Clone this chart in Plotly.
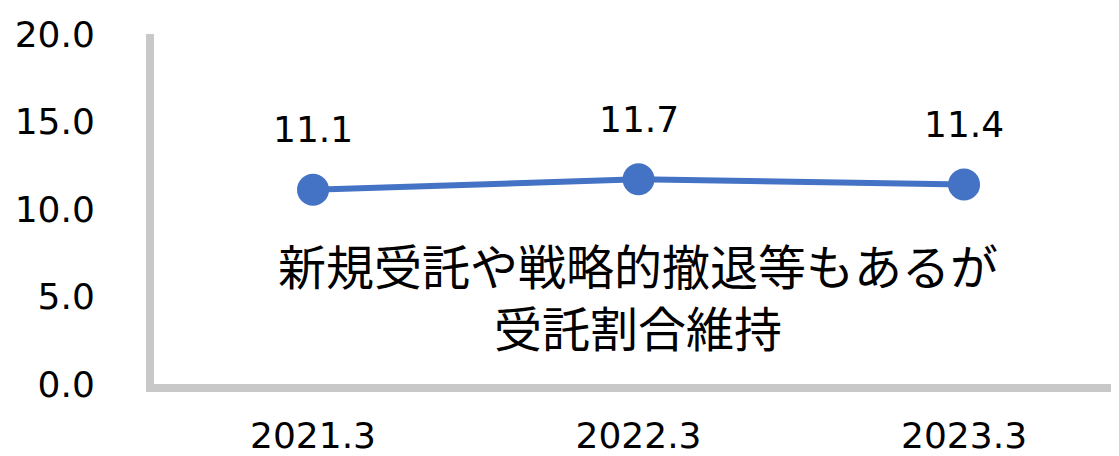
import plotly.graph_objects as go

categories = ["2021.3", "2022.3", "2023.3"]
values = [11.1, 11.7, 11.4]
y_ticks = [0, 5, 10, 15, 20]
y_tick_labels = ["0.0", "5.0", "10.0", "15.0", "20.0"]
note_text = "新規受託や戦略的撤退等もあるが<br>受託割合維持"

x_pos = list(range(len(categories)))

fig = go.Figure()
fig.add_trace(go.Scatter(
    x=x_pos, y=values, mode="lines+markers",
    line=dict(color="#4472C4", width=6),
    marker=dict(color="#4472C4", size=32),
    hoverinfo="skip", showlegend=False,
))

for xp, v in zip(x_pos, values):
    fig.add_annotation(
        x=xp, y=v, text=f"{v:.1f}", showarrow=False,
        yshift=60, font=dict(family="DejaVu Sans", size=36, color="#000000"),
    )

fig.add_annotation(
    xref="paper", yref="paper", x=0.5016, y=0.254,
    xanchor="center", yanchor="middle",
    text=note_text, showarrow=False, align="center",
    font=dict(family="Noto Sans CJK JP", size=48, color="#000000"),
)

fig.update_layout(
    width=1111, height=448,
    margin=dict(l=146, r=0, t=26, b=72),
    paper_bgcolor="white", plot_bgcolor="white",
    font=dict(family="DejaVu Sans", size=36, color="#000000"),
)
fig.update_xaxes(
    range=[-0.4885, 2.476], tickvals=x_pos, ticktext=categories, automargin=False,
    showgrid=False, zeroline=False, showline=True, linecolor="#C8C8C8", linewidth=8,
    ticks="", ticklabelstandoff=13, tickfont=dict(family="DejaVu Sans", size=36),
)
fig.update_yaxes(
    range=[0, 20], tickvals=y_ticks, ticktext=y_tick_labels, automargin=False,
    showgrid=False, zeroline=False, showline=True, linecolor="#C8C8C8", linewidth=8,
    ticks="", ticklabelstandoff=44, tickfont=dict(family="DejaVu Sans", size=36),
)

fig.write_html("out.html")
